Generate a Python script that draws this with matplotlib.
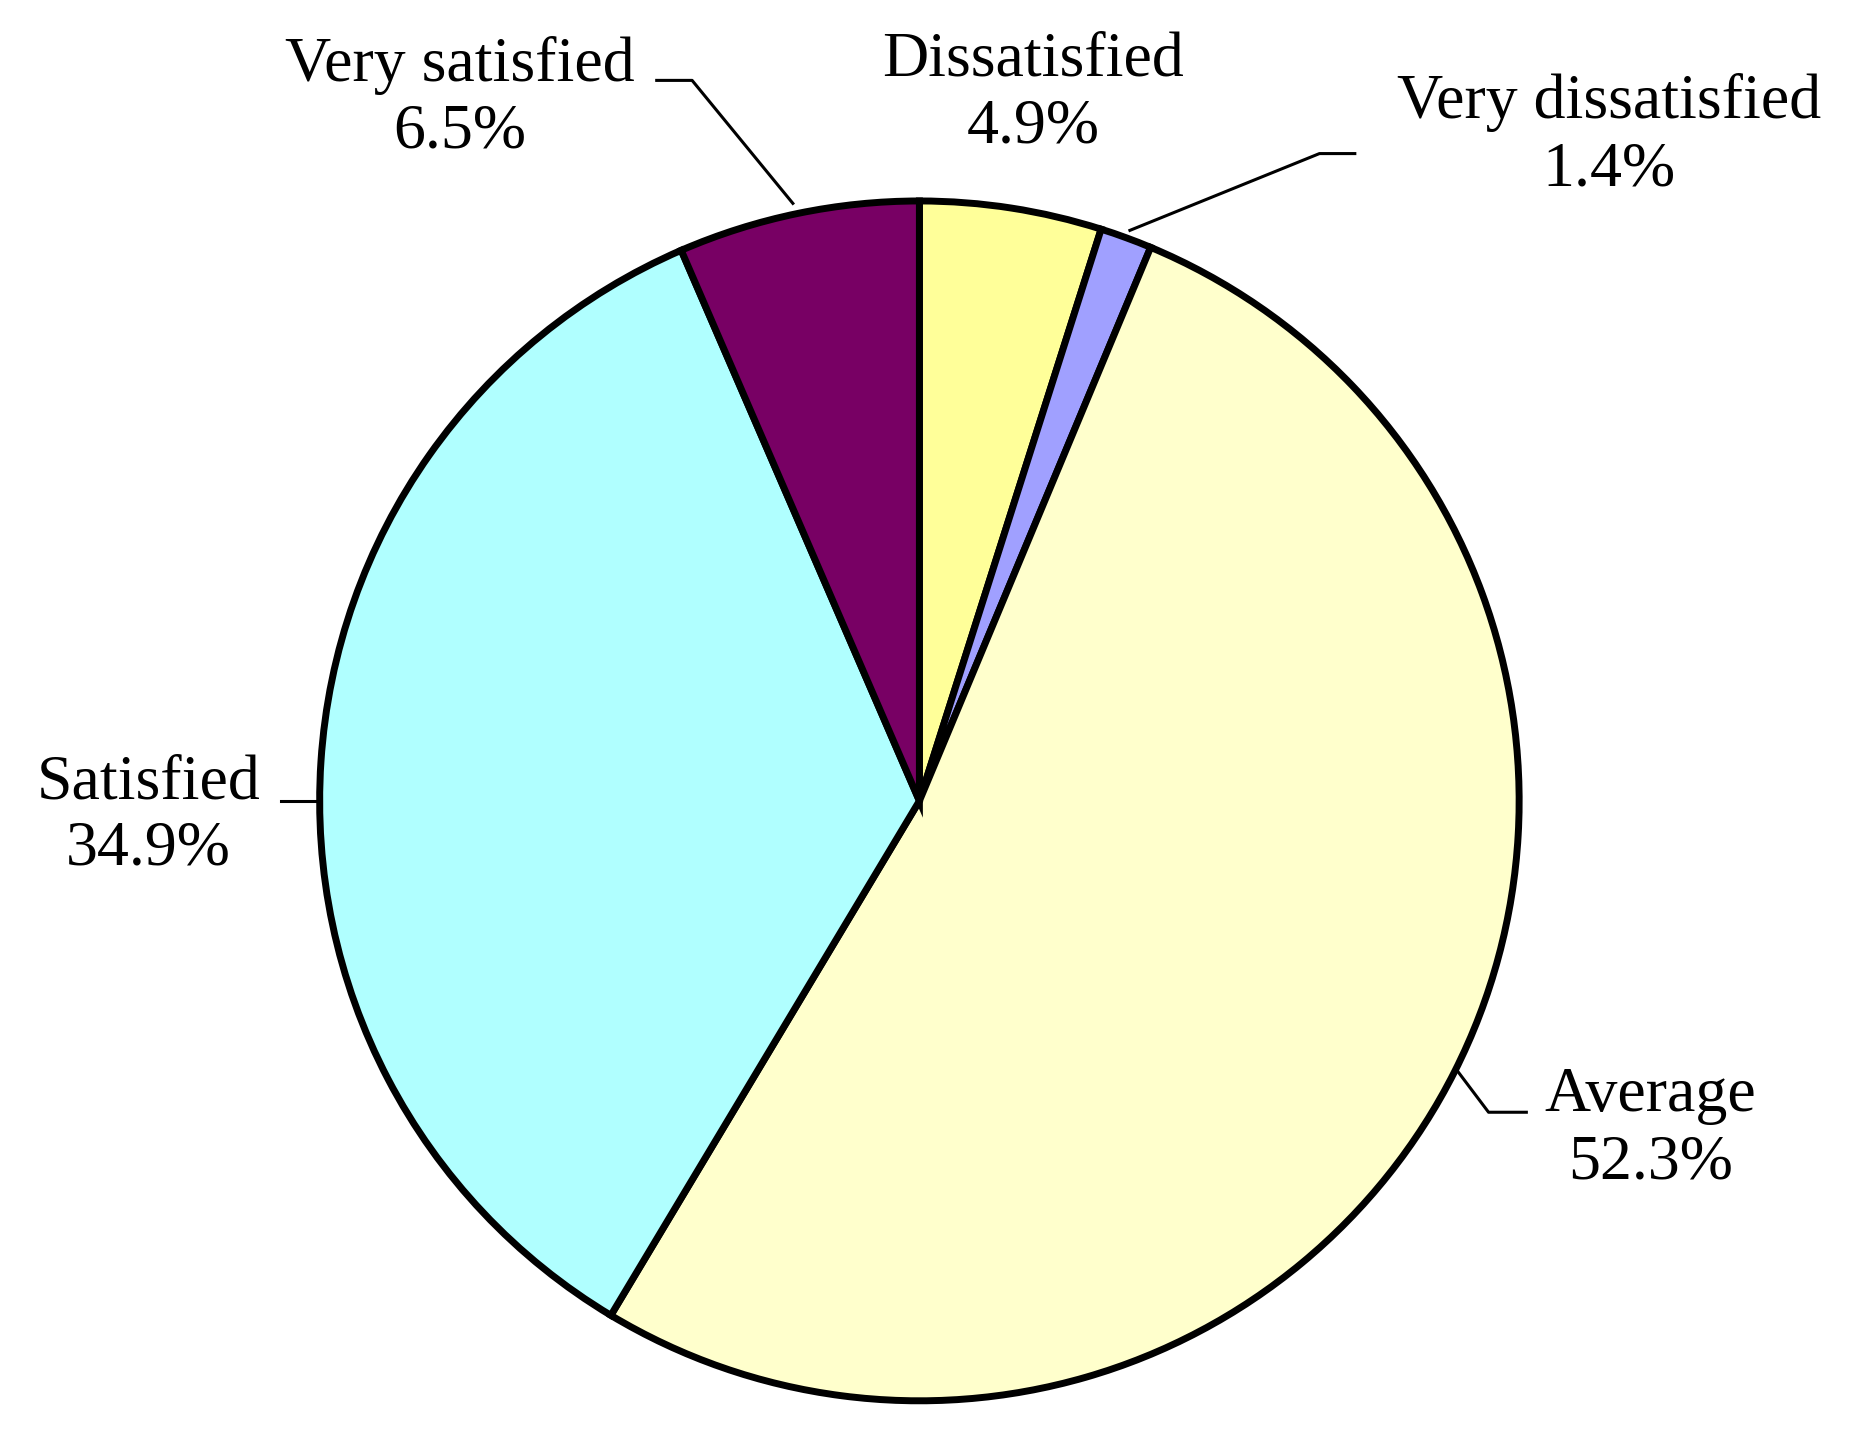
import matplotlib
matplotlib.use("Agg")
import matplotlib.pyplot as plt

labels = ["Dissatisfied", "Very dissatisfied", "Average", "Satisfied", "Very satisfied"]
values = [4.9, 1.4, 52.3, 34.9, 6.5]
colors = ["#FFFF99", "#A0A0FF", "#FFFFCC", "#B0FFFF", "#780064"]

plt.rcParams['font.family'] = ['Liberation Serif', 'DejaVu Serif']
fig = plt.figure(figsize=(18.55, 14.29), dpi=100)
ax = fig.add_axes([0, 0, 1, 1])
ax.pie(values, colors=colors, startangle=90, counterclock=False,
       wedgeprops=dict(edgecolor="black", linewidth=5))
ax.set_xlim(-1.533, 1.560)
ax.set_ylim(-1.047, 1.335)
ax.set_aspect('auto')
ax.axis('off')

fs = 46
txt = {
    "Very satisfied": (-0.767, 1.17),
    "Dissatisfied": (0.189, 1.178),
    "Very dissatisfied": (1.150, 1.108),
    "Satisfied": (-1.286, -0.026),
    "Average": (1.219, -0.548),
}
for lab, v in zip(labels, values):
    x, y = txt[lab]
    ax.text(x, y, f"{lab}\n{v}%", ha="center", va="center", fontsize=fs, linespacing=1.2)

lines = [
    ([-0.438, -0.379, -0.211], [1.201, 1.201, 0.996]),
    ([0.726, 0.667, 0.351], [1.079, 1.079, 0.951]),
    ([-1.065, -1.004], [0.0, 0.0]),
    ([1.012, 0.949, 0.897], [-0.519, -0.519, -0.450]),
]
for xs, ys in lines:
    ax.plot(xs, ys, color="black", linewidth=2.2)

fig.savefig("out.png", dpi=100, facecolor="white")
